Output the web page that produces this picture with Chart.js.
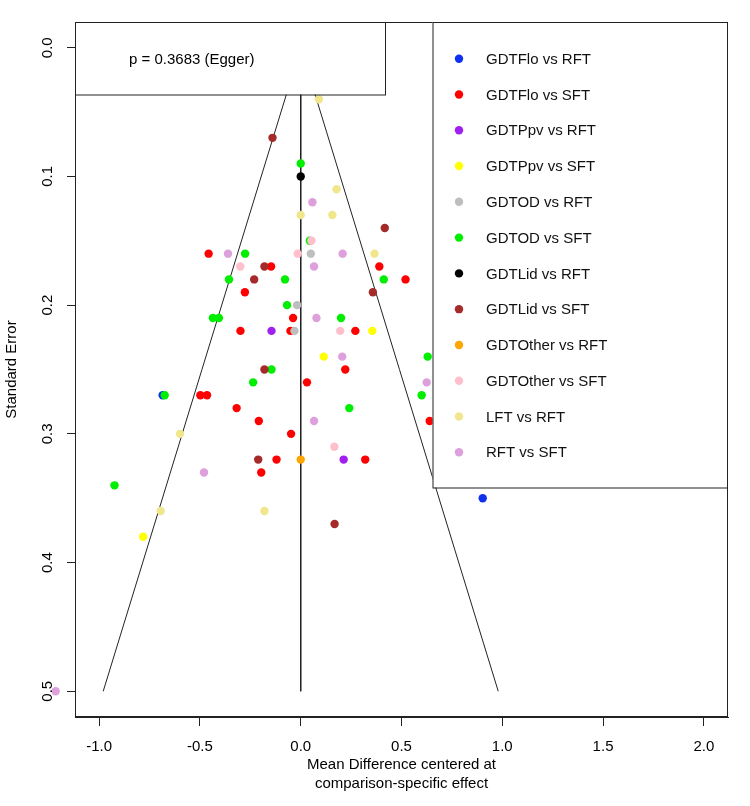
<!DOCTYPE html>
<html>
<head>
<meta charset="utf-8">
<script src="https://cdn.jsdelivr.net/npm/chart.js@4/dist/chart.umd.min.js"></script>
<style>
html,body{margin:0;padding:0;background:#fff;overflow:hidden;}
canvas{display:block;}
</style>
</head>
<body>
<canvas id="c" width="750" height="806"></canvas>
<script>
// ---------- data ----------
const seriesNames = ["GDTFlo vs RFT","GDTFlo vs SFT","GDTPpv vs RFT","GDTPpv vs SFT","GDTOD vs RFT","GDTOD vs SFT","GDTLid vs RFT","GDTLid vs SFT","GDTOther vs RFT","GDTOther vs SFT","LFT vs RFT","RFT vs SFT"];
const seriesColors = ["#1030F0","#FF0000","#A020F0","#FFFF00","#BEBEBE","#00EE00","#000000","#A52A2A","#FFA500","#FFC0CB","#F0E68C","#DDA0DD"];

const xGDTFloRFT = [-0.685, 0.903];
const yGDTFloRFT = [0.27, 0.35];
const xGDTFloSFT = [-0.457,-0.147,0.39,0.52,-0.277,-0.038,-0.299,-0.051,0.271,0.221,0.031,-0.498,-0.465,-0.318,-0.208,0.64,-0.048,-0.12,0.32,-0.196];
const yGDTFloSFT = [0.16,0.17,0.17,0.18,0.19,0.21,0.22,0.22,0.22,0.25,0.26,0.27,0.27,0.28,0.29,0.29,0.30,0.32,0.32,0.33];
const xGDTPpvRFT = [-0.145, 0.213];
const yGDTPpvRFT = [0.22, 0.32];
const xGDTPpvSFT = [0.355, 0.114, -0.782];
const yGDTPpvSFT = [0.22, 0.24, 0.38];
const xGDTODRFT = [0.05, -0.018, -0.031];
const yGDTODRFT = [0.16, 0.20, 0.22];
const xGDTODSFT = [0.0,0.045,-0.276,-0.356,-0.078,0.412,-0.068,-0.436,-0.406,0.2,0.63,-0.145,-0.236,-0.675,0.60,0.241,-0.924];
const yGDTODSFT = [0.09,0.15,0.16,0.18,0.18,0.18,0.20,0.21,0.21,0.21,0.24,0.25,0.26,0.27,0.27,0.28,0.34];
const xGDTLidRFT = [0.0];
const yGDTLidRFT = [0.10];
const xGDTLidSFT = [-0.14,0.417,-0.18,-0.231,0.358,-0.18,-0.211,0.168];
const yGDTLidSFT = [0.07,0.14,0.17,0.18,0.19,0.25,0.32,0.37];
const xGDTOtherRFT = [0.0];
const yGDTOtherRFT = [0.32];
const xGDTOtherSFT = [0.053,-0.015,-0.30,0.196,0.167];
const yGDTOtherSFT = [0.15,0.16,0.17,0.22,0.31];
const xLFTRFT = [0.09,0.178,0.0,0.157,0.366,-0.599,-0.695,-0.18];
const yLFTRFT = [0.04,0.11,0.13,0.13,0.16,0.30,0.36,0.36];
const xRFTSFT = [0.058,-0.361,0.208,0.066,0.078,0.206,0.625,0.066,-0.48,-1.216];
const yRFTSFT = [0.12,0.16,0.16,0.17,0.21,0.24,0.26,0.29,0.33,0.50];

const seriesX = [xGDTFloRFT,xGDTFloSFT,xGDTPpvRFT,xGDTPpvSFT,xGDTODRFT,xGDTODSFT,xGDTLidRFT,xGDTLidSFT,xGDTOtherRFT,xGDTOtherSFT,xLFTRFT,xRFTSFT];
const seriesY = [yGDTFloRFT,yGDTFloSFT,yGDTPpvRFT,yGDTPpvSFT,yGDTODRFT,yGDTODSFT,yGDTLidRFT,yGDTLidSFT,yGDTOtherRFT,yGDTOtherSFT,yLFTRFT,yRFTSFT];

// funnel (pseudo 95% limits) and centre line
const funnelX = [-0.98, 0, 0.98];
const funnelY = [0.5, 0, 0.5];
const centerX = [0, 0];
const centerY = [0, 0.5];

const xTicks = [-1.0,-0.5,0.0,0.5,1.0,1.5,2.0];
const yTicks = [0.0,0.1,0.2,0.3,0.4,0.5];
const xTitle = ["Mean Difference centered at","comparison-specific effect"];
const yTitle = "Standard Error";
const eggerText = "p = 0.3683 (Egger)";

// ---------- chart ----------
const FONT = "'Liberation Sans', Arial, Helvetica, sans-serif";
const zip = (xs, ys) => xs.map((x, i) => ({x: x, y: ys[i]}));
const PR = 4.2;

const datasets = seriesNames.map((name, i) => ({
  label: name,
  data: zip(seriesX[i], seriesY[i]),
  backgroundColor: seriesColors[i],
  borderWidth: 0,
  pointRadius: PR,
  pointHoverRadius: PR,
  showLine: false,
  clip: false,
  order: 20 - i
}));
datasets.push({
  label: "_funnel", data: zip(funnelX, funnelY), showLine: true,
  borderColor: "#222", borderWidth: 1, pointRadius: 0, fill: false, order: 100, tension: 0
});
datasets.push({
  label: "_centre", data: zip(centerX, centerY), showLine: true,
  borderColor: "#222", borderWidth: 1, pointRadius: 0, fill: false, order: 101, tension: 0
});

const decor = {
  id: "decor",
  afterDatasetsDraw(chart) {
    // points that fall outside the plotting region (R draws them with xpd)
    const ctx = chart.ctx;
    const a = chart.chartArea;
    ctx.save();
    seriesNames.forEach((name, i) => {
      const meta = chart.getDatasetMeta(i);
      meta.data.forEach(pt => {
        if (pt.x < a.left || pt.x > a.right || pt.y < a.top || pt.y > a.bottom) {
          ctx.fillStyle = seriesColors[i];
          ctx.beginPath();
          ctx.arc(pt.x, pt.y, PR, 0, Math.PI * 2);
          ctx.fill();
        }
      });
    });
    ctx.restore();
  },
  afterDraw(chart) {
    const ctx = chart.ctx;
    const a = chart.chartArea;
    const ys = chart.scales.y;
    ctx.save();
    // plot box
    ctx.strokeStyle = "#222";
    ctx.lineWidth = 1;
    ctx.strokeRect(a.left + 0.5, a.top + 0.5, a.right - a.left - 1, a.bottom - a.top - 1);

    // y tick labels (rotated, as in R)
    ctx.fillStyle = "#000";
    ctx.font = "15px " + FONT;
    ctx.textAlign = "center";
    ctx.textBaseline = "middle";
    yTicks.forEach(v => {
      const py = ys.getPixelForValue(v);
      ctx.save();
      ctx.translate(48, py);
      ctx.rotate(-Math.PI / 2);
      ctx.fillText(v.toFixed(1), 0, 0);
      ctx.restore();
    });

    // Egger box
    const eb = {l: a.left, t: a.top, r: 385, b: 94.5};
    ctx.fillStyle = "#fff";
    ctx.fillRect(eb.l, eb.t, eb.r - eb.l, eb.b - eb.t);
    ctx.strokeRect(eb.l + 0.5, eb.t + 0.5, eb.r - eb.l, eb.b - eb.t);
    ctx.fillStyle = "#000";
    ctx.textAlign = "left";
    ctx.fillText(eggerText, 129, 59.5);

    // legend box
    const lb = {l: 432.5, t: a.top, r: a.right, b: 487.5};
    ctx.fillStyle = "#fff";
    ctx.fillRect(lb.l, lb.t, lb.r - lb.l, lb.b - lb.t);
    ctx.strokeRect(lb.l + 0.5, lb.t + 0.5, lb.r - lb.l - 1, lb.b - lb.t);
    seriesNames.forEach((name, i) => {
      const cy = 58.7 + i * 35.78;
      ctx.fillStyle = seriesColors[i];
      ctx.beginPath();
      ctx.arc(459, cy, PR, 0, Math.PI * 2);
      ctx.fill();
      ctx.fillStyle = "#111";
      ctx.fillText(name, 486, cy + 1);
    });
    ctx.restore();
  }
};

new Chart(document.getElementById("c"), {
  type: "scatter",
  data: {datasets: datasets},
  options: {
    responsive: false,
    animation: false,
    devicePixelRatio: 1,
    layout: {padding: {top: 22, right: 22, left: 0, bottom: 0}},
    plugins: {legend: {display: false}, tooltip: {enabled: false}},
    scales: {
      x: {
        type: "linear", min: -1.12, max: 2.12,
        afterBuildTicks: s => { s.ticks = xTicks.map(v => ({value: v})); },
        afterFit: s => { s.height = 89; },
        grid: {drawOnChartArea: false, drawTicks: true, tickLength: 9, color: "#222"},
        border: {display: true, color: "#222", width: 1},
        ticks: {
          autoSkip: false, maxRotation: 0, minRotation: 0, padding: 12,
          color: "#000", font: {family: FONT, size: 15},
          callback: v => Number(v).toFixed(1)
        },
        title: {
          display: true, text: xTitle, color: "#000",
          font: {family: FONT, size: 15, lineHeight: 1.27},
          padding: {top: 0, bottom: 13}
        }
      },
      y: {
        type: "linear", reverse: true, min: -0.02, max: 0.52,
        afterBuildTicks: s => { s.ticks = yTicks.map(v => ({value: v})); },
        afterFit: s => { s.width = 75; },
        grid: {drawOnChartArea: false, drawTicks: true, tickLength: 8, color: "#222"},
        border: {display: true, color: "#222", width: 1},
        ticks: {display: false},
        title: {
          display: true, text: yTitle, color: "#000",
          font: {family: FONT, size: 15, lineHeight: 1.2},
          padding: {top: 3, bottom: 0}
        }
      }
    }
  },
  plugins: [decor]
});
</script>
</body>
</html>
